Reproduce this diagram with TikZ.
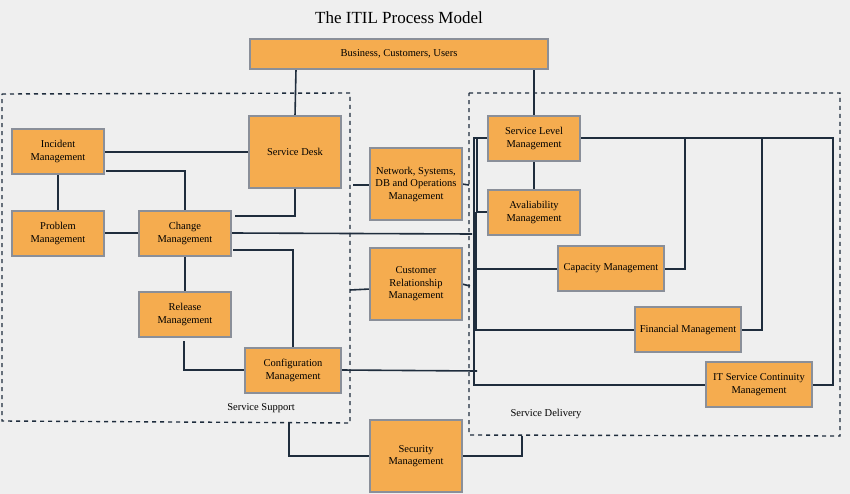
\documentclass[tikz,border=0pt]{standalone}
\usepackage{fontspec}
\setmainfont{Liberation Serif}
\begin{document}
\begin{tikzpicture}[x=1pt,y=-1pt,
  box/.style={draw=boxline,fill=boxfill,line width=1.3pt,align=center,font=\fontsize{10.5}{12.5}\selectfont,inner sep=1pt},
  ln/.style={draw=conn,line width=1.6pt},
  dsh/.style={draw=conn,line width=1.4pt,dash pattern=on 4pt off 4pt}]
\definecolor{bg}{HTML}{EFEFEF}
\definecolor{boxfill}{HTML}{F5AC4F}
\definecolor{boxline}{HTML}{8A8F99}
\definecolor{conn}{HTML}{1F2D3D}
\useasboundingbox[fill=bg] (0,0) rectangle (850,494);
\newcommand{\bx}[6]{\node[box,minimum width=#4-#2,minimum height=#5-#3] (#1) at ({(#2+#4)/2},{(#3+#5)/2}) {#6};}
\node[font=\fontsize{17}{20}\selectfont] (title) at (399,18) {The ITIL Process Model};
\draw[dsh] (2,94) -- (350,93) -- (350,423) -- (2,421) -- cycle;
\draw[dsh] (469,93) -- (840,93) -- (840,436) -- (469,435) -- cycle;
\node[font=\fontsize{10.5}{12}\selectfont] (ss) at (261,408) {Service Support};
\node[font=\fontsize{10.5}{12}\selectfont] (sdl) at (546,414) {Service Delivery};
% connectors
\coordinate (bsd) at (296,69);
\coordinate (bsl) at (534,69);
\draw[ln] (bsd) -- (295,116);
\draw[ln] (bsl) -- (534,116);
\draw[ln] (104,152) -- (249,152);
\draw[ln] (58,174) -- (58,211);
\draw[ln] (104,233) -- (139,233);
\draw[ln] (106,171) -| (185,211);
\draw[ln] (295,188) |- (235,216);
\draw[ln] (231,233) -- (472,234);
\draw[ln] (233,250) -| (293,348);
\draw[ln] (185,256) -- (185,292);
\draw[ln] (184,341) |- (245,370);
\draw[ln] (341,370) -- (477,371);
\draw[ln] (353,185) -- (370,185);
\draw[ln] (462,184) -- (469,185);
\draw[ln] (350,290) -- (370,289);
\draw[ln] (462,284) -- (470,286);
\draw[ln] (289,423) |- (370,456);
\draw[ln] (462,456) -| (522,436);
\draw[ln] (534,161) -- (534,190);
\draw[ln] (488,138) -- (474,138) -- (474,385) -- (706,385);
\draw[ln] (477,138) -- (477,212) -- (488,212);
\draw[ln] (476,269) -- (558,269);
\draw[ln] (476,212) -- (476,330) -- (635,330);
\draw[ln] (580,138) -- (833,138) -- (833,385) -- (812,385);
\draw[ln] (685,138) -- (685,269) -- (664,269);
\draw[ln] (762,138) -- (762,330) -- (741,330);
% boxes
\bx{bus}{250}{39}{548}{69}{Business, Customers, Users}
\bx{sd}{249}{116}{341}{188}{Service Desk}
\bx{inc}{12}{129}{104}{174}{Incident\\Management}
\bx{prob}{12}{211}{104}{256}{Problem\\Management}
\bx{chg}{139}{211}{231}{256}{Change\\Management}
\bx{rel}{139}{292}{231}{337}{Release\\Management}
\bx{cfg}{245}{348}{341}{393}{Configuration\\Management}
\bx{net}{370}{148}{462}{220}{Network, Systems,\\DB and Operations\\Management}
\bx{crm}{370}{248}{462}{320}{Customer\\Relationship\\Management}
\bx{sec}{370}{420}{462}{492}{Security\\Management}
\bx{slm}{488}{116}{580}{161}{Service Level\\Management}
\bx{av}{488}{190}{580}{235}{Avaliability\\Management}
\bx{cap}{558}{246}{664}{291}{Capacity Management}
\bx{fin}{635}{307}{741}{352}{Financial Management}
\bx{itsc}{706}{362}{812}{407}{IT Service Continuity\\Management}
\end{tikzpicture}
\end{document}
